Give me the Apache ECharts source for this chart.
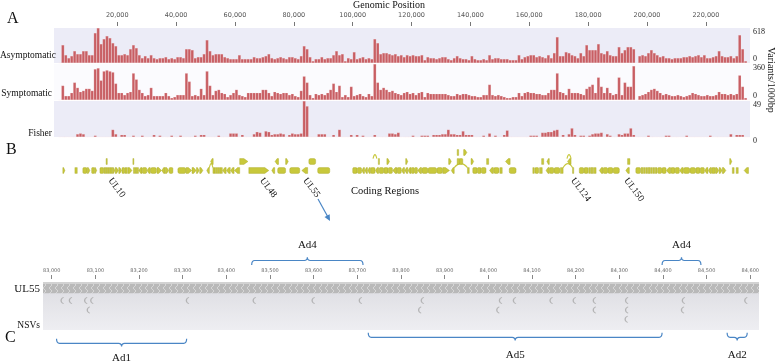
<!DOCTYPE html>
<html>
<head>
<meta charset="utf-8">
<script src="https://cdn.jsdelivr.net/npm/echarts@6/dist/echarts.min.js"></script>
<style>
  html, body { margin: 0; padding: 0; background: #fff; }
  #chart { width: 778px; height: 364px; }
</style>
</head>
<body>
<div id="chart"></div>
<script>
const SERIF = '"Liberation Serif", "DejaVu Serif", serif'

// ---- panel A: variants per 1000 bp bin (bin i = i*1000 .. i*1000+999) ----
const binSize = 1000
const genomeTicks = [20000, 40000, 60000, 80000, 100000, 120000, 140000, 160000, 180000, 200000, 220000]
const asymMax = 618
const symMax = 360
const fisherMax = 49

const asymptomatic = [
  0, 318, 141, 88, 124, 212, 159, 159, 212, 212,
  141, 141, 530, 618, 336, 424, 477, 442, 353, 300,
  141, 141, 159, 141, 247, 318, 265, 141, 88, 124,
  88, 141, 88, 71, 88, 88, 106, 71, 88,
  71, 106, 106, 88, 247, 247, 230, 88, 106, 106,
  159, 406, 212, 141, 159, 159, 159, 106, 88, 71,
  71, 71, 141, 71, 71, 71, 71, 106, 88, 88,
  106, 124, 159, 88, 71, 88, 106, 88, 71, 106,
  106,
  88, 71, 124, 300, 247, 106, 35, 71, 71, 106,
  71, 88, 88, 141, 212, 141, 159, 35, 88, 71,
  194, 71, 88, 106, 71, 88, 71, 424, 353, 159,
  177, 177, 159, 141, 159, 124, 141, 106, 141, 124,
  141,
  124, 124, 141, 53, 106, 88, 88, 71, 88, 106,
  106, 71, 53, 88, 124, 88, 71, 71, 53, 124,
  71, 53, 53, 71, 53, 141, 71, 88, 88, 71,
  71, 71, 53, 53, 53, 141, 71, 106, 124, 141,
  141,
  106, 124, 106, 88, 141, 88, 177, 459, 124, 124,
  194, 177, 141, 124, 88, 177, 124, 318, 230, 230,
  230, 336, 177, 159, 212, 141, 124, 124, 283, 177,
  230, 283, 283, 247, 0, 124, 141, 124, 177, 230,
  177, 141, 106, 124, 88, 88, 71, 88, 88, 88,
  106, 106, 124, 106, 124, 141, 106, 141, 88, 88,
  106, 124, 212, 124, 106, 106, 124, 88, 124, 494,
  247, 35, 0
]

const symptomatic = [
  0, 144, 41, 41, 72, 175, 123, 82, 93, 113,
  113, 93, 309, 319, 196, 288, 298, 288, 278, 165,
  72, 72, 51, 72, 82, 268, 206, 103, 72, 41,
  51, 123, 41, 41, 41, 41, 72, 41, 21,
  31, 51, 51, 51, 268, 185, 41, 51, 41, 113,
  51, 288, 144, 51, 93, 103, 72, 62, 31, 51,
  72, 103, 51, 41, 31, 72, 72, 72, 72, 72,
  103, 103, 72, 41, 82, 72, 62, 72, 72, 51,
  62,
  41, 31, 93, 237, 175, 51, 21, 62, 51, 62,
  51, 72, 103, 165, 82, 144, 31, 51, 31, 134,
  41, 51, 62, 41, 31, 62, 41, 360, 175, 103,
  123, 103, 82, 93, 72, 62, 51, 72, 82, 62,
  72,
  51, 72, 82, 31, 72, 62, 62, 62, 62, 62,
  62, 51, 41, 41, 62, 51, 62, 62, 51, 41,
  41, 31, 31, 51, 51, 154, 51, 41, 51, 41,
  31, 21, 21, 31, 31, 72, 41, 72, 82, 72,
  72,
  62, 62, 51, 51, 72, 103, 103, 268, 82, 72,
  51, 113, 72, 72, 72, 62, 51, 113, 134, 154,
  72, 226, 134, 72, 123, 72, 51, 62, 226, 51,
  175, 134, 134, 340, 0, 41, 51, 62, 82, 103,
  113, 93, 72, 51, 62, 51, 41, 41, 51, 41,
  31, 41, 51, 72, 62, 51, 41, 41, 51, 41,
  41, 51, 82, 62, 62, 51, 62, 51, 62, 247,
  134, 21, 0
]

const fisher = [
  0, 0, 0, 0, 0, 0, 4, 5, 4, 0,
  0, 0, 2, 0, 0, 0, 0, 0, 10, 4,
  0, 3, 3, 0, 0, 2, 0, 0, 2, 0,
  0, 0, 3, 0, 2, 0, 0, 0, 2, 0,
  0, 2, 0, 0, 0, 0, 2, 0, 3, 3,
  0, 0, 0, 0, 2, 0, 0, 0, 5, 5,
  5, 0, 3, 0, 0, 0, 4, 7, 6, 0,
  8, 7, 3, 4, 4, 5, 4, 0, 3, 5,
  4, 4, 5, 49, 42, 0, 0, 0, 4, 4,
  4, 0, 0, 3, 0, 10, 0, 0, 0, 3,
  0, 3, 0, 2, 0, 0, 0, 3, 0, 0,
  0, 0, 5, 5, 4, 6, 0, 0, 0, 0,
  2, 0, 0, 2, 2, 2, 0, 3, 3, 3,
  4, 4, 10, 4, 4, 3, 3, 8, 3, 3,
  3, 0, 0, 0, 2, 0, 5, 0, 2, 0,
  0, 3, 9, 0, 0, 0, 0, 0, 0, 0,
  2, 2, 2, 0, 6, 6, 7, 7, 9, 10,
  0, 3, 0, 4, 12, 3, 0, 2, 2, 0,
  2, 4, 5, 5, 6, 0, 4, 2, 0, 0,
  4, 3, 5, 5, 12, 3, 0, 0, 0, 0,
  2, 0, 0, 0, 0, 0, 2, 2, 0, 0,
  0, 0, 0, 2, 0, 0, 0, 0, 0, 0,
  0, 2, 0, 0, 0, 0, 0, 0, 4, 0,
  3, 3, 3, 0, 0
]

// ---- panel B: coding regions (kb), shape R/L = arrow, B = box, O = rounded ----
const geneStartKb = [
  1.5, 5.6, 8.3, 9.8, 11.3, 12.3, 14.1, 15.4, 16.1, 16.8, 17.5, 18.4, 19.3, 20.5, 21.6, 22.6, 23.6,
  25.5, 26.4, 27.3, 28.5, 30.1, 31.3, 33.5, 35.1, 36.3, 37.6, 40.6, 43.4, 45.4, 46.9, 48.0, 50.4,
  52.5, 53.3, 54.1, 54.9, 55.8, 57.1, 58.5, 59.8, 64.7, 72.5, 74.5, 78.6, 82.7, 88.1,
  100.0, 101.6, 103.1, 104.1, 105.1, 106.1, 107.7, 109.0, 110.6, 112.1, 113.6, 115.1, 116.6, 117.7,
  118.8, 119.9, 121.0, 122.1, 123.5, 125.6, 128.6, 130.6, 133.5, 139.0, 140.8, 142.4, 143.7, 146.5,
  147.9, 150.0, 153.2, 161.2, 161.9, 163.5, 165.7, 166.9, 168.4, 170.6, 174.7, 177.0, 178.6, 180.2,
  181.0, 181.8, 183.8, 185.1, 186.7, 188.5, 192.8, 196.2, 198.0, 198.8, 199.6, 200.4, 201.2, 202.0,
  202.8, 203.6, 205.1, 206.6, 208.1, 209.6, 211.1, 212.4, 214.6, 216.6, 218.1, 219.6, 220.8, 222.0,
  223.3, 224.5, 225.6, 229.0, 230.3, 233.0,
  16.2, 25.3, 51.7, 61.6, 73.6, 77.2, 85.1, 108.7, 111.6, 118.0, 132.6, 135.5, 136.3, 140.2, 145.5,
  151.9, 164.2, 166.0, 173.0, 193.4, 228.1,
  135.5, 137.7
]
const geneEndKb = [
  2.2, 6.4, 9.7, 10.7, 12.2, 13.0, 15.3, 16.0, 16.7, 17.4, 18.3, 19.2, 20.4, 21.5, 22.5, 23.4, 25.0,
  26.3, 27.2, 28.4, 30.0, 31.2, 33.3, 35.0, 36.2, 37.5, 38.9, 43.3, 45.3, 46.8, 47.8, 49.1, 51.3,
  53.2, 54.0, 54.8, 55.7, 57.0, 58.4, 59.7, 61.6, 71.5, 73.5, 77.2, 82.0, 84.7, 92.2,
  101.5, 103.0, 104.0, 105.0, 106.0, 107.6, 108.8, 110.5, 112.0, 113.5, 115.0, 116.5, 117.6, 118.7,
  119.8, 120.9, 122.0, 123.4, 125.5, 128.5, 130.5, 132.9, 134.5, 139.6, 142.3, 143.6, 145.3, 147.8,
  149.7, 150.8, 155.5, 161.7, 163.2, 164.4, 166.8, 168.3, 170.4, 171.5, 175.1, 178.5, 180.0, 180.8,
  181.6, 182.7, 185.0, 186.6, 188.4, 190.6, 194.0, 197.8, 198.6, 199.4, 200.2, 201.0, 201.8, 202.6,
  203.4, 205.0, 206.5, 208.0, 209.5, 211.0, 212.3, 214.5, 216.5, 218.0, 219.5, 220.7, 221.9, 223.2,
  224.4, 225.5, 226.8, 229.6, 231.0, 234.5,
  16.6, 25.5, 52.6, 64.4, 74.8, 78.1, 87.4, 109.1, 112.5, 118.7, 133.5, 136.3, 137.4, 141.1, 146.2,
  153.5, 164.9, 166.8, 174.2, 194.2, 228.8,
  136.0, 138.8
]
const geneShape = [
  'R', 'B', 'O', 'R', 'O', 'R', 'O', 'B', 'B', 'B', 'B', 'R', 'R', 'R', 'O', 'B', 'R',
  'B', 'B', 'L', 'O', 'L', 'O', 'R', 'L', 'R', 'O', 'O', 'R', 'R', 'R', 'R', 'L',
  'B', 'B', 'B', 'B', 'L', 'L', 'L', 'L', 'R', 'L', 'O', 'O', 'L', 'O',
  'O', 'O', 'L', 'L', 'L', 'O', 'L', 'O', 'O', 'O', 'L', 'O', 'L', 'L',
  'L', 'O', 'O', 'L', 'O', 'O', 'O', 'R', 'L', 'B', 'O', 'O', 'O', 'L',
  'O', 'B', 'O', 'B', 'O', 'B', 'L', 'O', 'O', 'B', 'B', 'O', 'O', 'B',
  'B', 'B', 'L', 'O', 'O', 'O', 'L', 'O', 'B', 'B', 'B', 'B', 'B', 'B',
  'B', 'O', 'O', 'L', 'O', 'O', 'L', 'O', 'O', 'O', 'O', 'L', 'L', 'O',
  'R', 'R', 'R', 'B', 'B', 'L',
  'B', 'B', 'L', 'R', 'L', 'R', 'O', 'B', 'R', 'R', 'R', 'B', 'O', 'R', 'B',
  'L', 'B', 'L', 'L', 'B', 'R',
  'B', 'R'
]
const geneRow = [
  0, 0, 0, 0, 0, 0, 0, 0, 0, 0, 0, 0, 0, 0, 0, 0, 0,
  0, 0, 0, 0, 0, 0, 0, 0, 0, 0, 0, 0, 0, 0, 0, 0,
  0, 0, 0, 0, 0, 0, 0, 0, 0, 0, 0, 0, 0, 0,
  0, 0, 0, 0, 0, 0, 0, 0, 0, 0, 0, 0, 0, 0,
  0, 0, 0, 0, 0, 0, 0, 0, 0, 0, 0, 0, 0, 0,
  0, 0, 0, 0, 0, 0, 0, 0, 0, 0, 0, 0, 0, 0,
  0, 0, 0, 0, 0, 0, 0, 0, 0, 0, 0, 0, 0, 0,
  0, 0, 0, 0, 0, 0, 0, 0, 0, 0, 0, 0, 0, 0,
  0, 0, 0, 0, 0, 0,
  1, 1, 1, 1, 1, 1, 1, 1, 1, 1, 1, 1, 1, 1, 1,
  1, 1, 1, 1, 1, 1,
  2, 2
]
// spliced genes: arcs joining exons
const intronStartKb = [51.3, 134.5, 171.5, 106.9, 172.8]
const intronEndKb = [52.5, 139.0, 174.7, 108.2, 174.2]
const intronRow = [0, 0, 0, 1, 1]

const geneLabels = ['UL10', 'UL48', 'UL55', 'UL124', 'UL150']
const geneLabelKb = [17.5, 69.0, 83.7, 174.7, 192.8]

// ---- panel C: UL55 close-up ----
const regionTicks = [83000, 83100, 83200, 83300, 83400, 83500, 83600, 83700, 83800,
  83900, 84000, 84100, 84200, 84300, 84400, 84500, 84600]
const ul55Span = [82900, 84700]
const nsvPos = [83024, 83043, 83078, 83092, 83311, 83464, 83599, 83707, 83849, 84028, 84060,
  84144, 84197, 84243, 84317, 84447, 84590,
  83084, 83843, 84022, 84243, 84317, 84445,
  84316]
const nsvLane = [2, 2, 2, 2, 2, 2, 2, 2, 2, 2, 2, 2, 2, 2, 2, 2, 2,
  3, 3, 3, 3, 3, 3,
  4]
const adNames = ['Ad4', 'Ad4', 'Ad1', 'Ad5', 'Ad2']
const adStart = [83458, 84398, 83011, 83725, 84547]
const adEnd = [83713, 84487, 83309, 84398, 84593]
const adSide = [1, 1, -1, -1, -1]
const adLevel = [0, 0, 1, 0, 0]

const chart = echarts.init(document.getElementById('chart'), null, { renderer: 'canvas' })

const GENE_FILL = '#c8c83c'
const GENE_LINE = '#a7a726'
const BAR_RED = '#c85e63'
const BRACKET_BLUE = '#4a86c5'

// hatch pattern for the UL55 track
const hatch = document.createElement('canvas')
hatch.width = 6
hatch.height = 6
const hc = hatch.getContext('2d')
hc.fillStyle = '#b9b9b9'
hc.fillRect(0, 0, 6, 6)
hc.strokeStyle = '#d6d6d6'
hc.lineWidth = 1
hc.beginPath()
hc.moveTo(1, 0); hc.lineTo(4, 3); hc.lineTo(1, 6)
hc.stroke()

const binData = (arr) => arr.map((v, i) => [i * binSize + binSize / 2, v])

const genomeAxis = (gridIndex, extra) => Object.assign({
  gridIndex, type: 'value', min: -1500, max: 235000, show: false
}, extra || {})

const panelY = (gridIndex, max, minAlign) => ({
  gridIndex, type: 'value', position: 'right', min: 0, max, interval: max,
  axisLine: { show: false }, axisTick: { show: false }, splitLine: { show: false },
  axisLabel: {
    fontSize: 8, fontFamily: SERIF, color: '#222', margin: 3,
    verticalAlignMinLabel: minAlign || 'bottom', verticalAlignMaxLabel: 'top'
  }
})

const barSeries = (axis, data) => ({
  type: 'bar', xAxisIndex: axis, yAxisIndex: axis, data: binData(data),
  barWidth: 2.95,
  itemStyle: { color: BAR_RED, borderColor: 'rgba(255,235,235,0.55)', borderWidth: 0.35 }
})

const renderGene = (params, api) => {
  const i = params.dataIndex
  const row = api.value(2)
  const a = api.coord([api.value(0) * 1000, row + 0.5])
  const b = api.coord([api.value(1) * 1000, row + 0.5])
  const h = api.size([0, 0.64])[1]
  const x0 = a[0], x1 = Math.max(b[0], a[0] + 1), y = a[1]
  const w = x1 - x0
  const style = { fill: GENE_FILL, stroke: GENE_LINE, lineWidth: 0.4 }
  const shape = geneShape[i]
  if (shape === 'R' || shape === 'L') {
    const hd = Math.min(h * 0.7, w * 0.6)
    const pts = shape === 'R'
      ? [[x0, y - h / 2], [x1 - hd, y - h / 2], [x1, y], [x1 - hd, y + h / 2], [x0, y + h / 2]]
      : [[x1, y - h / 2], [x0 + hd, y - h / 2], [x0, y], [x0 + hd, y + h / 2], [x1, y + h / 2]]
    return { type: 'polygon', shape: { points: pts }, style }
  }
  const r = shape === 'O' ? Math.min(h / 2, w / 2) * 0.55 : 0
  return { type: 'rect', shape: { x: x0, y: y - h / 2, width: w, height: h, r }, style }
}

const renderIntron = (params, api) => {
  const row = api.value(2)
  const h = api.size([0, 0.64])[1]
  const a = api.coord([api.value(0) * 1000, row + 0.5])
  const b = api.coord([api.value(1) * 1000, row + 0.5])
  const yTop = a[1] - h / 2
  return {
    type: 'bezierCurve',
    shape: { x1: a[0], y1: yTop, x2: b[0], y2: yTop, cpx1: (a[0] + b[0]) / 2, cpy1: yTop - 8 },
    style: { stroke: GENE_FILL, fill: 'none', lineWidth: 1.1 }
  }
}

const renderGeneLabel = (params, api) => {
  const p = api.coord([api.value(0) * 1000, 0])
  const cs = params.coordSys
  return {
    type: 'text', x: p[0], y: cs.y + cs.height + 4, rotation: -0.92,
    style: {
      text: geneLabels[params.dataIndex], fill: '#111', fontSize: 9.5, fontFamily: SERIF,
      align: 'left', verticalAlign: 'middle'
    }
  }
}

const renderTrack = (params, api) => {
  const a = api.coord([api.value(0), 0])
  const b = api.coord([api.value(1), 1.2])
  const cs = params.coordSys
  const rect = echarts.graphic.clipRectByRect(
    { x: a[0], y: a[1], width: b[0] - a[0], height: b[1] - a[1] },
    { x: cs.x, y: cs.y, width: cs.width, height: cs.height })
  return rect && {
    type: 'group',
    children: [
      { type: 'rect', shape: rect, style: { fill: { image: hatch, repeat: 'repeat' } } },
      { type: 'rect', shape: { x: rect.x, y: rect.y, width: rect.width, height: 2 }, style: { fill: '#d2d2d2' } }
    ]
  }
}

const renderBracket = (params, api) => {
  const i = params.dataIndex
  const x0 = api.coord([api.value(0), 0])[0]
  const x1 = api.coord([api.value(1), 0])[0]
  const xm = (x0 + x1) / 2
  const cs = params.coordSys
  const side = adSide[i]
  const lvl = adLevel[i]
  const yH = side > 0 ? cs.y - 21.5 : cs.y + cs.height + 7.3 + lvl * 6
  const d = 4.5 * side, s = 3.2 * side, r = 3
  const path = [
    'M', x0, yH + d, 'Q', x0, yH, x0 + r, yH, 'L', xm - r, yH, 'Q', xm, yH, xm, yH - s,
    'Q', xm, yH, xm + r, yH, 'L', x1 - r, yH, 'Q', x1, yH, x1, yH + d
  ].join(' ')
  const ly = side > 0 ? yH - 15 : yH + 18 - lvl * 3
  return {
    type: 'group',
    children: [
      { type: 'path', shape: { pathData: path }, style: { stroke: BRACKET_BLUE, fill: 'none', lineWidth: 1.2 } },
      {
        type: 'text', x: xm, y: ly,
        style: { text: adNames[i], fill: '#111', fontSize: 11, fontFamily: SERIF, align: 'center', verticalAlign: 'middle' }
      }
    ]
  }
}

const txt = (text, x, y, size, extra) => ({
  type: 'text', x, y,
  style: Object.assign({ text, fill: '#111', fontSize: size, fontFamily: SERIF, verticalAlign: 'middle' }, extra || {})
})

const option = {
  animation: false,
  backgroundColor: '#ffffff',
  title: {
    text: 'Genomic Position', left: 'center', top: 0, padding: 0,
    textStyle: { fontFamily: SERIF, fontSize: 10, fontWeight: 'normal', color: '#111' }
  },
  grid: [
    { left: 54, width: 696, top: 21, height: 1 },
    { left: 54, width: 696, top: 28, height: 35, show: true, backgroundColor: '#ececf7', borderWidth: 0 },
    { left: 54, width: 696, top: 64, height: 36, show: true, backgroundColor: '#fbfbfe', borderWidth: 0 },
    { left: 54, width: 696, top: 101, height: 36, show: true, backgroundColor: '#ececf7', borderWidth: 0 },
    { left: 54, width: 696, top: 148, height: 27 },
    { left: 43, width: 716, top: 274, height: 1 },
    {
      left: 43, width: 716, top: 282, height: 48, show: true, borderWidth: 0,
      backgroundColor: new echarts.graphic.LinearGradient(0, 0, 0, 1, [
        { offset: 0, color: '#dcdce1' }, { offset: 1, color: '#eeeef2' }
      ])
    }
  ],
  xAxis: [
    genomeAxis(0, {
      show: true, position: 'top',
      axisLine: { show: false },
      axisTick: { show: true, inside: true, length: 4, lineStyle: { color: '#777' }, customValues: genomeTicks },
      axisLabel: {
        customValues: genomeTicks, fontSize: 6.5, color: '#555', margin: 2,
        fontFamily: 'DejaVu Sans, sans-serif',
        formatter: (v) => v.toLocaleString('en-US')
      },
      splitLine: { show: false }
    }),
    genomeAxis(1), genomeAxis(2), genomeAxis(3), genomeAxis(4),
    {
      gridIndex: 5, type: 'value', min: 82980, max: 84620, position: 'top',
      axisLine: { show: false },
      axisTick: { show: true, inside: true, length: 4, lineStyle: { color: '#888' }, customValues: regionTicks },
      axisLabel: {
        customValues: regionTicks, fontSize: 5, color: '#666', margin: 1,
        fontFamily: 'DejaVu Sans, sans-serif',
        formatter: (v) => v.toLocaleString('en-US')
      },
      splitLine: { show: false }
    },
    { gridIndex: 6, type: 'value', min: 82980, max: 84620, show: false }
  ],
  yAxis: [
    { gridIndex: 0, show: false },
    panelY(1, asymMax),
    panelY(2, symMax),
    panelY(3, fisherMax, 'top'),
    { gridIndex: 4, type: 'value', min: 0, max: 3, show: false },
    { gridIndex: 5, show: false },
    { gridIndex: 6, type: 'value', min: 0, max: 5.16, inverse: true, show: false }
  ],
  series: [
    barSeries(1, asymptomatic),
    barSeries(2, symptomatic),
    barSeries(3, fisher),
    {
      type: 'custom', xAxisIndex: 4, yAxisIndex: 4, renderItem: renderIntron,
      data: intronStartKb.map((s, i) => [s, intronEndKb[i], intronRow[i]])
    },
    {
      type: 'custom', xAxisIndex: 4, yAxisIndex: 4, renderItem: renderGene,
      data: geneStartKb.map((s, i) => [s, geneEndKb[i], geneRow[i]])
    },
    {
      type: 'custom', xAxisIndex: 4, yAxisIndex: 4, renderItem: renderGeneLabel,
      data: geneLabelKb.map((k) => [k])
    },
    {
      type: 'custom', xAxisIndex: 6, yAxisIndex: 6, renderItem: renderTrack,
      data: [ul55Span]
    },
    {
      type: 'scatter', xAxisIndex: 6, yAxisIndex: 6,
      symbol: 'path://M6,0 C1,3 1,11 6,14 L7,13 C3,10 3,4 7,1 Z',
      symbolSize: [3.5, 7], itemStyle: { color: '#a8a8a8' },
      data: nsvPos.map((p, i) => [p, nsvLane[i]])
    },
    {
      type: 'custom', xAxisIndex: 6, yAxisIndex: 6, renderItem: renderBracket,
      data: adStart.map((s, i) => [s, adEnd[i]])
    }
  ],
  graphic: [
    txt('A', 7, 19, 16),
    txt('Asymptomatic', 0, 55, 9.5, { align: 'left' }),
    txt('Symptomatic', 52, 93, 9.5, { align: 'right' }),
    txt('Fisher', 52, 133, 9.5, { align: 'right' }),
    txt('Variants/1000bp', 771, 80, 10, { verticalAlign: 'middle', align: 'center' }),
    txt('B', 6, 150, 16),
    txt('Coding Regions', 385, 191, 10.5, { align: 'center' }),
    txt('UL55', 40, 289, 11, { align: 'right' }),
    txt('NSVs', 40, 325, 9.5, { align: 'right' }),
    txt('C', 5, 338, 16),
    {
      type: 'line', shape: { x1: 318, y1: 199, x2: 328.2, y2: 217.5 },
      style: { stroke: BRACKET_BLUE, lineWidth: 1.2 }
    },
    {
      type: 'polygon', shape: { points: [[330, 221], [329.7, 214.3], [324.5, 217.1]] },
      style: { fill: BRACKET_BLUE }
    }
  ]
}

// rotate the unit label to read top-to-bottom
option.graphic[4].rotation = -Math.PI / 2

chart.setOption(option)
</script>
</body>
</html>
